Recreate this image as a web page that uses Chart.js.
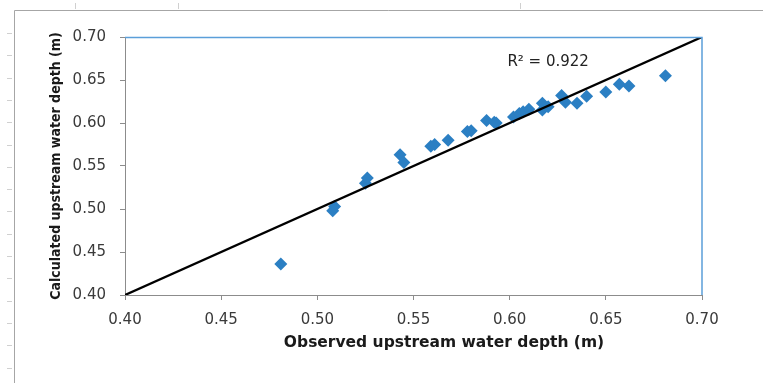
<!DOCTYPE html>
<html lang="en">
<head>
    <meta charset="UTF-8">
    <title>Observed vs calculated upstream water depth</title>
    <script src="https://cdn.jsdelivr.net/npm/chart.js"></script>
    <style>
        html, body { margin: 0; padding: 0; background: #fff; overflow: hidden; }
        canvas { display: block; }
    </style>
</head>
<body>
    <canvas id="depthChart" width="763" height="383"></canvas>

    <script>
        // Observed vs calculated upstream water depth (m)
        const observed = [0.481, 0.508, 0.509, 0.525, 0.526, 0.543, 0.545, 0.559, 0.561, 0.568,
                          0.578, 0.580, 0.588, 0.592, 0.593, 0.602, 0.605, 0.607, 0.610, 0.617,
                          0.617, 0.620, 0.627, 0.629, 0.635, 0.640, 0.650, 0.657, 0.662, 0.681];
        const calculated = [0.436, 0.498, 0.503, 0.530, 0.536, 0.563, 0.554, 0.573, 0.575, 0.580,
                            0.590, 0.591, 0.603, 0.601, 0.600, 0.607, 0.611, 0.613, 0.616, 0.623,
                            0.615, 0.619, 0.632, 0.624, 0.623, 0.631, 0.636, 0.645, 0.643, 0.655];
        // 1:1 line end points
        const lineX = [0.40, 0.70];
        const lineY = [0.40, 0.70];
        const axisMin = 0.40, axisMax = 0.70, axisStep = 0.05;
        const r2Label = 'R² = 0.922';
        const r2Pos = [0.62, 0.671];

        const points = observed.map((x, i) => ({ x: x, y: calculated[i] }));
        const linePts = lineX.map((x, i) => ({ x: x, y: lineY[i] }));

        // page frame, blue plot border, R² text and x title
        const extras = {
            id: 'extras',
            beforeDraw(chart) {
                const c = chart.ctx;
                c.save();
                c.strokeStyle = '#a6a6a6';
                c.lineWidth = 1;
                c.beginPath();
                c.moveTo(14.5, 383);
                c.lineTo(14.5, 10.5);
                c.lineTo(763, 10.5);
                c.stroke();
                c.strokeStyle = '#d0d0d0';
                for (let y = 33; y < 383; y += 22.3) {
                    c.beginPath();
                    c.moveTo(7, Math.round(y) + 0.5);
                    c.lineTo(12, Math.round(y) + 0.5);
                    c.stroke();
                }
                [75, 178, 520].forEach(x => {
                    c.beginPath();
                    c.moveTo(x + 0.5, 3);
                    c.lineTo(x + 0.5, 9);
                    c.stroke();
                });
                c.restore();
            },
            afterDraw(chart) {
                const c = chart.ctx;
                const a = chart.chartArea;
                const xs = chart.scales.x, ys = chart.scales.y;
                c.save();
                c.strokeStyle = '#5b9fd9';
                c.lineWidth = 1.5;
                c.beginPath();
                c.moveTo(a.left, a.top + 0.5);
                c.lineTo(a.right, a.top + 0.5);
                c.lineTo(a.right, a.bottom);
                c.stroke();

                c.fillStyle = '#222';
                c.font = '15px "DejaVu Sans"';
                c.textAlign = 'center';
                c.textBaseline = 'middle';
                c.fillText(r2Label, xs.getPixelForValue(r2Pos[0]), ys.getPixelForValue(r2Pos[1]));

                c.font = 'bold 15.5px "DejaVu Sans"';
                c.fillStyle = '#1a1a1a';
                c.fillText('Observed upstream water depth (m)', 444, 343);
                c.restore();
            }
        };

        const ctx = document.getElementById('depthChart').getContext('2d');
        new Chart(ctx, {
            type: 'scatter',
            data: {
                datasets: [{
                    label: 'Data',
                    data: points,
                    pointStyle: 'rectRot',
                    pointRadius: 6.5,
                    backgroundColor: '#2b7fc3',
                    borderColor: '#2b7fc3',
                    borderWidth: 0,
                    order: 2
                }, {
                    label: '1:1',
                    data: linePts,
                    showLine: true,
                    borderColor: '#000',
                    borderWidth: 2.3,
                    pointRadius: 0,
                    order: 1
                }]
            },
            options: {
                responsive: false,
                animation: false,
                devicePixelRatio: 1,
                layout: { padding: { top: 37, right: 61, bottom: 0, left: 0 } },
                plugins: { legend: { display: false }, tooltip: { enabled: false } },
                scales: {
                    x: {
                        type: 'linear',
                        min: axisMin,
                        max: axisMax,
                        afterFit(scale) { scale.height = 88; },
                        ticks: {
                            stepSize: axisStep,
                            padding: 11,
                            maxRotation: 0,
                            color: '#3a3a3a',
                            font: { family: 'DejaVu Sans', size: 15 },
                            callback: v => v.toFixed(2)
                        },
                        grid: { drawOnChartArea: false, tickLength: 5, color: '#8c8c8c' },
                        border: { color: '#8c8c8c' }
                    },
                    y: {
                        type: 'linear',
                        min: axisMin,
                        max: axisMax,
                        afterFit(scale) { scale.width = 125; },
                        ticks: {
                            stepSize: axisStep,
                            padding: 14,
                            color: '#3a3a3a',
                            font: { family: 'DejaVu Sans', size: 15 },
                            callback: v => v.toFixed(2)
                        },
                        grid: { drawOnChartArea: false, tickLength: 5, color: '#8c8c8c' },
                        border: { color: '#8c8c8c' },
                        title: {
                            display: true,
                            text: 'Calculated upstream water depth (m)',
                            color: '#1a1a1a',
                            font: { family: '"DejaVu Sans Condensed", "DejaVu Sans"', size: 14, weight: 'bold' },
                            padding: { top: 48, bottom: 0 }
                        }
                    }
                }
            },
            plugins: [extras]
        });
    </script>
</body>
</html>
